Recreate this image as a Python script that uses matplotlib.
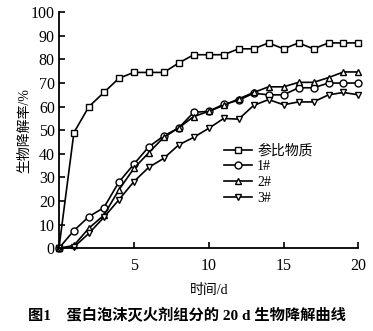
import matplotlib
matplotlib.use("Agg")
import matplotlib.pyplot as plt

plt.rcParams['font.family'] = ['Liberation Serif', 'Noto Sans CJK SC']

# 生物降解率 (%) by day
days = list(range(0, 21))
ref = [0, 49, 60, 66, 72, 74.5, 74.5, 74.5, 78.5, 82, 82, 82, 84.5, 84.5, 87, 84.5, 87, 84.5, 87, 87, 87]
s1 = [0, 7.5, 13.4, 17.2, 28, 35.6, 43, 47.6, 51, 57.6, 58, 61, 62.7, 65.7, 65, 65, 68, 68, 70, 70, 70]
s2 = [0, 1.2, 8.5, 14, 24.7, 33.8, 40.5, 47, 51, 55.8, 58, 60.5, 63.3, 66, 68.4, 68.4, 70.3, 70.3, 72.3, 74.7, 74.7]
s3 = [0, 0.5, 6.3, 13.1, 20.5, 28.2, 34.3, 38.1, 43.8, 47, 50.8, 55, 54.7, 60.5, 63, 60.8, 62, 62, 65, 66, 65]
names = ['参比物质', '1#', '2#', '3#']
markers = ['s', 'o', '^', 'v']

fig = plt.figure(figsize=(3.73, 3.31), dpi=100)
ax = fig.add_axes([0.158, 0.250, 0.803, 0.713])

for ys, name, m in zip([ref, s1, s2, s3], names, markers):
    ax.plot(days, ys, color='black', lw=1.2, marker=m, ms=5,
            mfc='white', mec='black', mew=1.0, label=name, clip_on=False)

ax.set_xlim(0, 20)
ax.set_ylim(0, 100)
ax.set_xticks([5, 10, 15, 20])
ax.set_yticks(range(0, 101, 10))
ax.spines['top'].set_visible(False)
ax.spines['right'].set_visible(False)
for sp in ['left', 'bottom']:
    ax.spines[sp].set_linewidth(1.3)
ax.tick_params(direction='in', length=4, width=1.2, labelsize=11.5)
ax.tick_params(axis='x', pad=7)
ax.tick_params(axis='y', pad=3)

ax.set_xlabel('时间/d', fontsize=10, labelpad=7)
ax.set_ylabel('生物降解率/%', fontsize=10, labelpad=0)

ax.legend(loc='lower right', bbox_to_anchor=(0.87, 0.155), frameon=False,
          fontsize=10, handlelength=2.0, handletextpad=0.35, labelspacing=0.2,
          borderpad=0)

fig.text(0.075, 0.048, '图1    蛋白泡沫灭火剂组分的 20 d 生物降解曲线',
         fontsize=11, fontweight='bold', ha='left', va='center')

fig.savefig('out.png', dpi=100)
